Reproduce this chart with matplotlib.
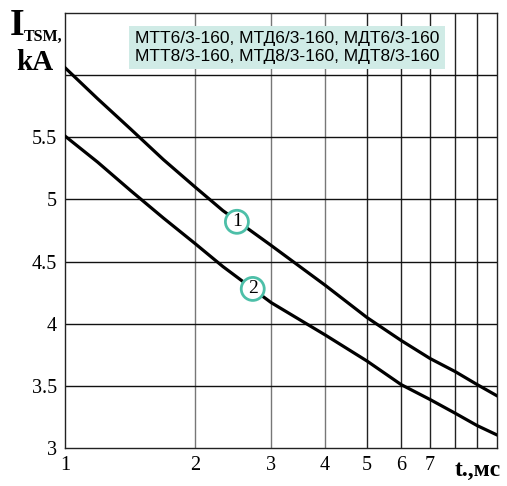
import matplotlib
matplotlib.use("Agg")
import matplotlib.pyplot as plt
from matplotlib.patches import Circle

# curve data (t in ms, I_TSM in kA)
t = [1, 1.19, 1.42, 1.69, 2, 2.32, 3, 4, 5, 6, 7, 8, 9, 10]
curve1 = [6.06, 5.81, 5.565, 5.32, 5.10, 4.91, 4.63, 4.31, 4.05, 3.865, 3.72, 3.615, 3.51, 3.42]
curve2 = [5.51, 5.30, 5.07, 4.85, 4.645, 4.46, 4.17, 3.91, 3.70, 3.51, 3.39, 3.28, 3.18, 3.105]

x_ticks = [1, 2, 3, 4, 5, 6, 7]
y_ticks = [3, 3.5, 4, 4.5, 5, 5.5]
legend_lines = ["МТТ6/3-160, МТД6/3-160, МДТ6/3-160",
                "МТТ8/3-160, МТД8/3-160, МДТ8/3-160"]

fig = plt.figure(figsize=(5.07, 4.86), dpi=100)
ax = fig.add_axes([65 / 507, 38 / 486, 432 / 507, 435 / 486])

ax.set_xscale("log")
ax.set_xlim(1, 10)
ax.set_ylim(3, 6.5)

# grid
for xv in range(2, 10):
    ax.axvline(xv, color="#777777" if xv < 5 else "#222222", lw=1.0, zorder=1)
for yv in [3.5, 4, 4.5, 5, 5.5, 6]:
    ax.axhline(yv, color="#111111", lw=1.0, zorder=1)

ax.plot(t, curve1, color="black", lw=2.3, zorder=3, solid_joinstyle="round")
ax.plot(t, curve2, color="black", lw=2.3, zorder=3, solid_joinstyle="round")

for sp in ax.spines.values():
    sp.set_linewidth(1.0)
    sp.set_color("#222222")

ax.set_xticks(x_ticks)
ax.set_xticklabels([str(v) for v in x_ticks])
ax.xaxis.set_minor_locator(matplotlib.ticker.NullLocator())
ax.set_yticks(y_ticks)
ax.set_yticklabels(["3", "3.5", "4", "4.5", "5", "5.5"])
ax.tick_params(length=0, pad=6, labelsize=14.5)
for lab in ax.get_xticklabels() + ax.get_yticklabels():
    lab.set_fontfamily("Liberation Serif")

# curve number markers
def marker(x, y, txt):
    xd, yd = ax.transData.transform((x, y))
    ax.add_patch(Circle((xd, yd), 11.5, transform=None, facecolor="white",
                        edgecolor="#4dbfa8", lw=2.0, zorder=4))
    ax.text(x, y, txt, ha="center", va="center", fontsize=14,
            family="Liberation Serif", zorder=5)

marker(2.5, 4.82, "1")
marker(2.72, 4.28, "2")

# legend box with device names
fig.text(287 / 507, 1 - 47.5 / 486, "\n".join(legend_lines), ha="center",
         va="center", fontsize=12.5, family="Liberation Sans",
         linespacing=1.2,
         bbox=dict(boxstyle="square,pad=0.32", facecolor="#d0ebe6",
                   edgecolor="none"))

# axis titles
fig.text(10 / 507, 1 - 35 / 486, "I", fontsize=27, fontweight="bold",
         family="Liberation Serif", ha="left", va="baseline")
fig.text(24 / 507, 1 - 41 / 486, "TSM,", fontsize=11.5, fontweight="bold",
         family="Liberation Serif", ha="left", va="baseline")
fig.text(35 / 507, 1 - 62 / 486, "kA", fontsize=21, fontweight="bold",
         family="Liberation Serif", ha="center", va="center")
fig.text(478 / 507, 1 - 470 / 486, "t.,мс", fontsize=17, fontweight="bold",
         family="Liberation Serif", ha="center", va="center")

fig.savefig("out.png", dpi=100)
